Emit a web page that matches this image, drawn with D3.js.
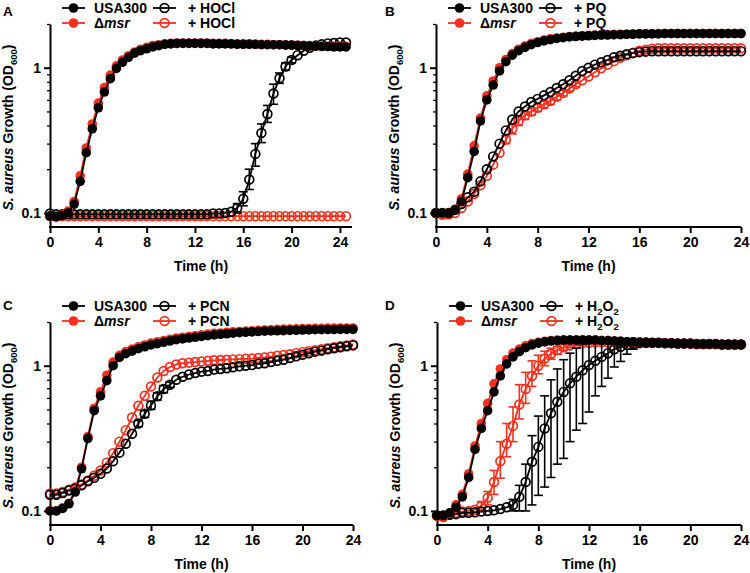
<!DOCTYPE html>
<html><head><meta charset="utf-8">
<script src="https://cdn.jsdelivr.net/npm/d3@7/dist/d3.min.js"></script>
<style>body{margin:0;background:#fff}text{font-family:"Liberation Sans",Arial,sans-serif;font-weight:bold}</style>
</head><body><svg id="c" width="750" height="573"></svg>
<script>
// ---------- data ----------
const timeH = [0,0.5,1,1.5,2,2.5,3,3.5,4,4.5,5,5.5,6,6.5,7,7.5,8,8.5,9,9.5,10,10.5,11,11.5,12,12.5,13,13.5,14,14.5,15,15.5,16,16.5,17,17.5,18,18.5,19,19.5,20,20.5,21,21.5,22,22.5,23,23.5,24];
const timeA = [0,0.5,1,1.5,2,2.5,3,3.5,4,4.5,5,5.5,6,6.5,7,7.5,8,8.5,9,9.5,10,10.5,11,11.5,12,12.5,13,13.5,14,14.5,15,15.5,16,16.5,17,17.5,18,18.5,19,19.5,20,20.5,21,21.5,22,22.5,23,23.5,24,24.5];
const xTicks = [0,4,8,12,16,20,24];
const yMajor = [0.1,1];
const yTickLabels = ["0.1","1"];
const yMinor = [0.2,0.3,0.4,0.5,0.6,0.7,0.8,0.9,2];
const treatments = ["HOCl","PQ","PCN","H2O2"];
const panelLetters = ["A","B","C","D"];

// Panel A (HOCl)
const usaA = [0.095,0.094,0.096,0.100,0.115,0.165,0.26,0.38,0.53,0.68,
 0.84,0.99,1.09,1.18,1.26,1.31,1.35,1.39,1.42,1.45,
 1.46,1.47,1.47,1.47,1.47,1.47,1.47,1.46,1.46,1.46,
 1.46,1.45,1.45,1.45,1.45,1.44,1.44,1.44,1.44,1.43,
 1.43,1.42,1.42,1.41,1.41,1.40,1.40,1.39,1.39,1.39];
const msrA = [0.095,0.094,0.097,0.103,0.12,0.18,0.28,0.41,0.57,0.73,
 0.89,1.03,1.13,1.21,1.28,1.34,1.38,1.42,1.44,1.46,
 1.47,1.47,1.48,1.48,1.48,1.48,1.47,1.47,1.47,1.47,
 1.46,1.46,1.46,1.46,1.45,1.45,1.45,1.44,1.44,1.44,
 1.43,1.43,1.42,1.42,1.41,1.41,1.40,1.40,1.40,1.40];
const hoclA = [0.099,0.098,0.098,0.098,0.098,0.098,0.098,0.098,0.098,0.098,
 0.098,0.098,0.098,0.098,0.098,0.098,0.098,0.098,0.098,0.098,
 0.098,0.098,0.098,0.098,0.098,0.098,0.098,0.099,0.099,0.100,
 0.102,0.108,0.125,0.17,0.255,0.355,0.48,0.665,0.845,1.02,
 1.13,1.22,1.31,1.37,1.42,1.45,1.47,1.48,1.49,1.49];
const hoclMsrA = [0.095,0.095,0.095,0.095,0.095,0.095,0.095,0.095,0.095,0.095,
 0.095,0.095,0.095,0.095,0.095,0.095,0.095,0.095,0.095,0.095,
 0.095,0.095,0.095,0.095,0.095,0.095,0.095,0.095,0.095,0.095,
 0.095,0.095,0.095,0.095,0.095,0.095,0.095,0.095,0.095,0.095,
 0.095,0.095,0.095,0.095,0.095,0.095,0.095,0.095,0.095,0.095];
const errHoclA = [[15.5,0.10,0.116],[16,0.112,0.14],[16.5,0.145,0.20],[17,0.21,0.30],[17.5,0.305,0.41],[18,0.42,0.55],[18.5,0.56,0.77],[19,0.78,0.92],[19.5,0.96,1.08],[20,1.08,1.18]];

// Panel B (PQ)
const usaB = [0.100,0.100,0.100,0.105,0.120,0.175,0.265,0.43,0.60,0.76,
 0.95,1.10,1.22,1.31,1.38,1.44,1.49,1.53,1.56,1.59,
 1.61,1.63,1.64,1.65,1.66,1.67,1.68,1.68,1.69,1.69,
 1.70,1.70,1.71,1.71,1.71,1.71,1.72,1.72,1.72,1.72,
 1.72,1.72,1.72,1.72,1.72,1.72,1.72,1.72,1.72];
const msrB = [0.100,0.098,0.100,0.106,0.125,0.185,0.29,0.45,0.64,0.81,
 1.00,1.14,1.25,1.34,1.41,1.47,1.51,1.55,1.58,1.60,
 1.62,1.64,1.65,1.66,1.67,1.68,1.68,1.69,1.69,1.70,
 1.70,1.71,1.71,1.71,1.72,1.72,1.72,1.72,1.72,1.72,
 1.72,1.72,1.72,1.72,1.72,1.72,1.72,1.72,1.72];
const pqB = [0.100,0.100,0.100,0.105,0.115,0.128,0.140,0.165,0.20,0.245,
 0.30,0.37,0.44,0.50,0.54,0.58,0.61,0.645,0.68,0.725,
 0.77,0.82,0.88,0.95,1.00,1.05,1.09,1.13,1.18,1.21,
 1.24,1.26,1.28,1.29,1.30,1.30,1.30,1.30,1.30,1.30,
 1.30,1.30,1.30,1.30,1.30,1.30,1.30,1.30,1.30];
const pqMsrB = [0.100,0.097,0.098,0.100,0.108,0.120,0.135,0.155,0.18,0.215,
 0.26,0.32,0.38,0.43,0.47,0.50,0.53,0.56,0.59,0.63,
 0.67,0.72,0.77,0.82,0.87,0.93,0.99,1.05,1.11,1.17,
 1.22,1.27,1.31,1.33,1.35,1.36,1.36,1.36,1.36,1.36,
 1.36,1.36,1.36,1.36,1.36,1.36,1.36,1.36,1.36];
const errPqMsrB = [[5.5,0.30,0.34],[6,0.35,0.41],[6.5,0.40,0.46],[7,0.44,0.50],[7.5,0.47,0.53],[8,0.50,0.56],[8.5,0.53,0.59],[9,0.56,0.62],[9.5,0.60,0.66],[10,0.64,0.70],[10.5,0.69,0.75],[11,0.74,0.80]];

// Panel C (PCN)
const usaC = [0.100,0.100,0.104,0.112,0.135,0.195,0.315,0.49,0.62,0.79,
 1.00,1.14,1.21,1.26,1.31,1.35,1.39,1.42,1.45,1.48,
 1.51,1.53,1.55,1.57,1.59,1.61,1.63,1.645,1.66,1.675,
 1.69,1.70,1.71,1.72,1.73,1.735,1.74,1.745,1.75,1.755,
 1.76,1.765,1.77,1.77,1.775,1.775,1.78,1.78,1.78];
const msrC = [0.100,0.100,0.105,0.113,0.140,0.200,0.325,0.51,0.66,0.86,
 1.06,1.18,1.25,1.30,1.35,1.39,1.43,1.46,1.49,1.52,
 1.55,1.57,1.59,1.61,1.63,1.65,1.67,1.68,1.70,1.71,
 1.72,1.73,1.74,1.75,1.76,1.77,1.78,1.785,1.79,1.795,
 1.80,1.805,1.81,1.81,1.815,1.815,1.82,1.82,1.82];
const pcnC = [0.129,0.129,0.133,0.138,0.142,0.150,0.160,0.169,0.180,0.196,
 0.22,0.252,0.29,0.34,0.40,0.466,0.533,0.615,0.69,0.74,
 0.80,0.84,0.87,0.89,0.91,0.92,0.94,0.95,0.96,0.975,
 0.99,1.00,1.01,1.03,1.04,1.06,1.08,1.10,1.13,1.16,
 1.19,1.22,1.25,1.27,1.30,1.32,1.34,1.36,1.38];
const pcnMsrC = [0.132,0.132,0.135,0.140,0.145,0.152,0.162,0.175,0.19,0.215,
 0.25,0.30,0.36,0.44,0.53,0.62,0.72,0.83,0.92,0.98,
 1.02,1.04,1.05,1.06,1.07,1.08,1.09,1.095,1.10,1.105,
 1.11,1.115,1.12,1.13,1.14,1.155,1.17,1.185,1.20,1.22,
 1.24,1.26,1.28,1.30,1.32,1.34,1.36,1.38,1.40];
const errPcnC = [[7,0.38,0.42],[7.5,0.44,0.49],[8,0.50,0.57],[8.5,0.58,0.65],[9,0.65,0.73],[9.5,0.71,0.77]];

// Panel D (H2O2)
const usaD = [0.093,0.093,0.097,0.106,0.125,0.17,0.265,0.37,0.49,0.66,
 0.85,1.03,1.15,1.25,1.33,1.39,1.43,1.46,1.48,1.49,
 1.50,1.50,1.50,1.50,1.50,1.50,1.49,1.49,1.48,1.47,
 1.46,1.46,1.45,1.45,1.44,1.44,1.43,1.43,1.42,1.42,
 1.42,1.41,1.41,1.41,1.41,1.40,1.40,1.40,1.40];
const msrD = [0.092,0.090,0.096,0.110,0.130,0.18,0.28,0.40,0.55,0.75,
 0.95,1.10,1.22,1.30,1.37,1.42,1.45,1.47,1.49,1.50,
 1.50,1.50,1.50,1.50,1.50,1.50,1.49,1.49,1.48,1.47,
 1.46,1.46,1.45,1.45,1.44,1.44,1.43,1.43,1.42,1.42,
 1.42,1.41,1.41,1.41,1.41,1.40,1.40,1.40,1.40];
const h2o2D = [0.093,0.093,0.094,0.095,0.097,0.097,0.098,0.099,0.100,0.101,
 0.103,0.106,0.110,0.125,0.158,0.218,0.276,0.37,0.47,0.565,
 0.66,0.756,0.84,0.93,1.01,1.08,1.15,1.22,1.30,1.35,
 1.39,1.41,1.43,1.44,1.44,1.44,1.43,1.43,1.42,1.42,
 1.42,1.41,1.41,1.41,1.41,1.40,1.40,1.40,1.40];
const h2o2MsrD = [0.093,0.092,0.095,0.097,0.099,0.100,0.102,0.108,0.123,0.158,
 0.22,0.29,0.385,0.54,0.69,0.85,1.00,1.12,1.21,1.28,
 1.34,1.38,1.41,1.43,1.44,1.45,1.45,1.45,1.45,1.45,
 1.45,1.45,1.45,1.44,1.44,1.44,1.43,1.43,1.42,1.42,
 1.42,1.41,1.41,1.41,1.41,1.40,1.40,1.40,1.40];
const errH2o2MsrD = [[3.5,0.100,0.116],[4,0.110,0.136],[4.5,0.13,0.19],[5,0.168,0.30],[5.5,0.236,0.40],[6,0.30,0.52],[6.5,0.43,0.74],[7,0.55,0.90],[7.5,0.72,1.08],[8,0.88,1.18],[8.5,1.00,1.26],[9,1.11,1.32],[9.5,1.20,1.36],[10,1.28,1.40],[10.5,1.33,1.43],[11,1.37,1.45]];
const errH2o2D = [[6,0.10,0.12],[6.5,0.10,0.15],[7,0.10,0.21],[7.5,0.11,0.33],[8,0.128,0.45],[8.5,0.146,0.62],[9,0.17,0.80],[9.5,0.21,0.95],[10,0.23,1.10],[10.5,0.30,1.22],[11,0.36,1.32],[11.5,0.40,1.40],[12,0.48,1.45],[12.5,0.62,1.48],[13,0.72,1.50],[13.5,0.82,1.50],[14,0.98,1.50],[14.5,1.07,1.50],[15,1.20,1.50],[15.5,1.30,1.49]];

// ---------- styling / layout ----------
const RED = "#f5301f", BLACK = "#000";
const FS = 14;
const svg = d3.select("#c");

const panels = [
  {left:50, right:352, top:24, bottom:227, xMax:25, lx:3, ly:16,
   t:timeA, usa:usaA, msr:msrA, trt:hoclA, trtMsr:hoclMsrA, errTrt:errHoclA, errTrtMsr:[]},
  {left:436, right:741, top:24, bottom:227, xMax:24, lx:385, ly:16,
   t:timeH, usa:usaB, msr:msrB, trt:pqB, trtMsr:pqMsrB, errTrt:[], errTrtMsr:errPqMsrB},
  {left:50, right:353, top:322, bottom:525, xMax:24, lx:3, ly:310,
   t:timeH, usa:usaC, msr:msrC, trt:pcnC, trtMsr:pcnMsrC, errTrt:errPcnC, errTrtMsr:[]},
  {left:437, right:741, top:322, bottom:525, xMax:24, lx:385, ly:310,
   t:timeH, usa:usaD, msr:msrD, trt:h2o2D, trtMsr:h2o2MsrD, errTrt:errH2o2D, errTrtMsr:errH2o2MsrD}
];

function addRich(sel, parts, size){
  let shifted = false;
  parts.forEach(([txt, st])=>{
    const ts = sel.append("tspan").text(txt);
    if (st === "i") ts.attr("font-style","italic");
    if (st === "sub") { ts.attr("font-size", size*0.68).attr("dy", size*0.3); shifted = true; }
    else if (shifted) { ts.attr("dy", -size*0.3); shifted = false; }
  });
}
function trtParts(name){
  if (name === "H2O2") return [["+ H"],["2","sub"],["O"],["2","sub"]];
  return [["+ " + name]];
}

function drawMarker(g, cx, cy, color, filled){
  if (filled) g.append("circle").attr("cx",cx).attr("cy",cy).attr("r",4.8).attr("fill",color);
  else g.append("circle").attr("cx",cx).attr("cy",cy).attr("r",4.4).attr("fill","none").attr("stroke",color).attr("stroke-width",1.7);
}

panels.forEach((p, pi)=>{
  const g = svg.append("g");
  const x = d3.scaleLinear().domain([0, p.xMax]).range([p.left, p.right]);
  const y = d3.scaleLog().domain([0.08, 2]).range([p.bottom, p.top]);

  const xa = g.append("g").attr("transform", `translate(0,${p.bottom})`)
    .call(d3.axisBottom(x).tickValues(xTicks).tickFormat(d3.format("d")).tickSize(6).tickPadding(4).tickSizeOuter(0));
  xa.select(".domain").attr("stroke-width", 2).attr("d", `M${p.left-1},0H${p.right}`);
  xa.selectAll(".tick line").attr("stroke-width", 2);
  xa.selectAll(".tick text").attr("font-size", FS).attr("fill", "#000");

  const ya = g.append("g").attr("transform", `translate(${p.left},0)`)
    .call(d3.axisLeft(y).tickValues(yMajor).tickFormat((d,i)=>yTickLabels[i]).tickSize(6).tickPadding(3).tickSizeOuter(0));
  ya.select(".domain").attr("stroke-width", 2);
  ya.selectAll(".tick line").attr("stroke-width", 2);
  ya.selectAll(".tick text").attr("font-size", FS).attr("fill", "#000");
  const ym = g.append("g").attr("transform", `translate(${p.left},0)`)
    .call(d3.axisLeft(y).tickValues(yMinor).tickFormat("").tickSize(3).tickSizeOuter(0));
  ym.select(".domain").remove();
  ym.selectAll(".tick line").attr("stroke-width", 1.3);

  g.append("text").attr("x", (p.left + p.right)/2).attr("y", p.bottom + 44)
    .attr("text-anchor","middle").attr("font-size",FS).text("Time (h)");
  const yl = g.append("text").attr("transform", `translate(${p.left-37},${(p.top+p.bottom)/2+2}) rotate(-90)`)
    .attr("text-anchor","middle").attr("font-size",FS);
  addRich(yl, [["S. aureus","i"],[" Growth (OD"],["600","sub"],[")"]], FS);

  g.append("text").attr("x", p.lx).attr("y", p.ly).attr("font-size", 13.5).text(panelLetters[pi]);

  const series = [
    {vals:p.trtMsr, color:RED, filled:false, err:p.errTrtMsr},
    {vals:p.trt, color:BLACK, filled:false, err:p.errTrt},
    {vals:p.msr, color:RED, filled:true, err:[]},
    {vals:p.usa, color:BLACK, filled:true, err:[]}
  ];
  const line = d3.line().x((d,i)=>x(p.t[i])).y(d=>y(d));
  series.forEach(s=>{
    const sg = g.append("g");
    sg.append("path").attr("d", line(s.vals)).attr("fill","none").attr("stroke", s.color).attr("stroke-width",1.8);
    s.err.forEach(([t, lo, hi])=>{
      const cx = x(t);
      sg.append("line").attr("x1",cx).attr("x2",cx).attr("y1",y(lo)).attr("y2",y(hi)).attr("stroke",s.color).attr("stroke-width",1.6);
      [lo, hi].forEach(v=>sg.append("line").attr("x1",cx-4.5).attr("x2",cx+4.5).attr("y1",y(v)).attr("y2",y(v)).attr("stroke",s.color).attr("stroke-width",1.6));
    });
    s.vals.forEach((v,i)=>drawMarker(sg, x(p.t[i]), y(v), s.color, s.filled));
  });

  const rows = [p.top-16, p.top-1];
  const entries = [
    {col:0, row:0, color:BLACK, filled:true, parts:[["USA300"]]},
    {col:0, row:1, color:RED, filled:true, parts:[["Δ"],["msr","i"]]},
    {col:1, row:0, color:BLACK, filled:false, parts:trtParts(treatments[pi])},
    {col:1, row:1, color:RED, filled:false, parts:trtParts(treatments[pi])}
  ];
  entries.forEach(e=>{
    const x0 = p.left + (e.col === 0 ? 12 : 103);
    const x1 = x0 + 23;
    const yy = rows[e.row];
    const lg = g.append("g");
    lg.append("line").attr("x1",x0).attr("x2",x1).attr("y1",yy).attr("y2",yy).attr("stroke",e.color).attr("stroke-width",1.8);
    drawMarker(lg, (x0+x1)/2, yy, e.color, e.filled);
    const tx = lg.append("text").attr("x", p.left + (e.col === 0 ? 44 : 138)).attr("y", yy + 5).attr("font-size", 14);
    addRich(tx, e.parts, 14);
  });
});
</script>
</body></html>
